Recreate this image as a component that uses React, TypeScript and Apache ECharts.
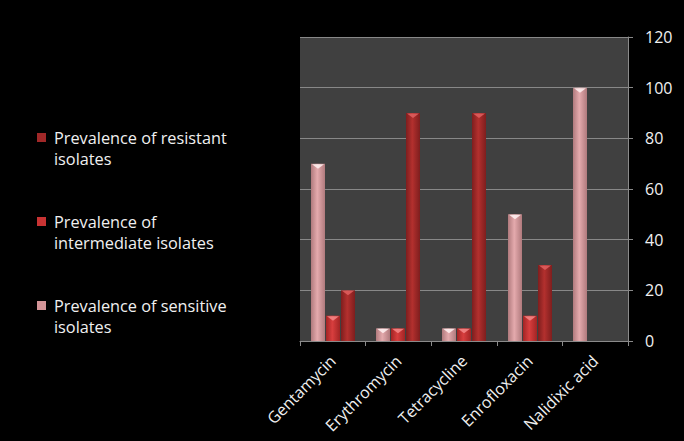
import React, { useEffect, useRef } from "react";
import * as echarts from "echarts";

const categories = ["Gentamycin", "Erythromycin", "Tetracycline", "Enrofloxacin", "Nalidixic acid"];
const sensitive = [70, 5, 5, 50, 100];
const intermediate = [10, 5, 5, 10, 0];
const resistant = [20, 90, 90, 30, 0];
const seriesNames = [
  "Prevalence of sensitive isolates",
  "Prevalence of intermediate isolates",
  "Prevalence of resistant isolates",
];
const legendLabels: Record<string, string> = {
  "Prevalence of resistant isolates": "\nPrevalence of resistant\nisolates",
  "Prevalence of intermediate isolates": "\nPrevalence of\nintermediate isolates",
  "Prevalence of sensitive isolates": "\nPrevalence of sensitive\nisolates",
};

const FONT = "'Open Sans', Lato, sans-serif";

const palette = [
  { edge: "#b07a7d", mid: "#e4aaad", top: "#fff2f2", legend: "#d39497" },
  { edge: "#a22424", mid: "#d83e3e", top: "#f58a8a", legend: "#c83333" },
  { edge: "#7e1e1e", mid: "#b3302e", top: "#e06060", legend: "#a02828" },
];

function grad(edge: string, mid: string) {
  return new echarts.graphic.LinearGradient(0, 0, 1, 0, [
    { offset: 0, color: edge },
    { offset: 0.45, color: mid },
    { offset: 1, color: edge },
  ]);
}

const BAR_W = 14;
const STEP = 15;

export default function App() {
  const ref = useRef<HTMLDivElement>(null);
  useEffect(() => {
    document.body.style.margin = "0";
    document.body.style.background = "#000";
    if (!ref.current) return;
    const chart = echarts.init(ref.current, null, { renderer: "svg" });
    const values = [sensitive, intermediate, resistant];
    chart.setOption({
      animation: false,
      backgroundColor: "#000000",
      grid: { left: 300, right: 56, top: 37, bottom: 100, backgroundColor: "#404040", show: true, borderWidth: 0 },
      legend: {
        orient: "vertical",
        left: 37,
        top: 106,
        padding: 0,
        itemWidth: 9,
        itemHeight: 9,
        itemGap: 21,
        icon: "rect",
        data: [seriesNames[2], seriesNames[1], seriesNames[0]],
        formatter: (n: string) => legendLabels[n] || n,
        textStyle: {
          color: "#f0f0f0",
          fontSize: 16.3,
          fontFamily: FONT,
          lineHeight: 21,
          padding: [0, 0, 0, 3],
        },
      },
      xAxis: {
        type: "category",
        data: categories,
        axisLine: { lineStyle: { color: "#8a8a8a", width: 1 } },
        axisTick: { show: true, length: 5, lineStyle: { color: "#8a8a8a" } },
        axisLabel: { rotate: 45, color: "#f0f0f0", fontSize: 16, fontFamily: FONT, margin: 17, interval: 0 },
      },
      yAxis: {
        type: "value",
        position: "right",
        min: 0,
        max: 120,
        interval: 20,
        axisLine: { show: true, lineStyle: { color: "#8a8a8a", width: 1 } },
        axisTick: { show: true, length: 5, lineStyle: { color: "#8a8a8a" } },
        axisLabel: { color: "#f0f0f0", fontSize: 16, fontFamily: FONT, margin: 17 },
        splitLine: { lineStyle: { color: "#888888", width: 1 } },
      },
      series: values.map((v, i) => ({
        name: seriesNames[i],
        type: "custom",
        data: v.map((val, ci) => [ci, val]),
        itemStyle: { color: palette[i].legend },
        encode: { x: 0, y: 1 },
        renderItem: (params: any, api: any) => {
          const ci = api.value(0);
          const val = api.value(1);
          if (!val) return { type: "group", children: [] };
          const base = api.coord([ci, 0]);
          const top = api.coord([ci, val]);
          const x = Math.round(base[0] + (i - 1) * STEP - BAR_W / 2);
          const y0 = top[1];
          const h = base[1] - top[1];
          const ch = Math.min(5, h);
          return {
            type: "group",
            children: [
              {
                type: "rect",
                shape: { x, y: y0, width: BAR_W, height: h },
                style: { fill: grad(palette[i].edge, palette[i].mid) },
              },
              {
                type: "polygon",
                shape: {
                  points: [
                    [x + 1, y0 + 0.5],
                    [x + BAR_W - 1, y0 + 0.5],
                    [x + BAR_W / 2, y0 + ch],
                  ],
                },
                style: { fill: palette[i].top, opacity: 0.85 },
              },
            ],
          };
        },
      })),
    });
    return () => chart.dispose();
  }, []);
  return <div ref={ref} style={{ width: 684, height: 441 }} />;
}
